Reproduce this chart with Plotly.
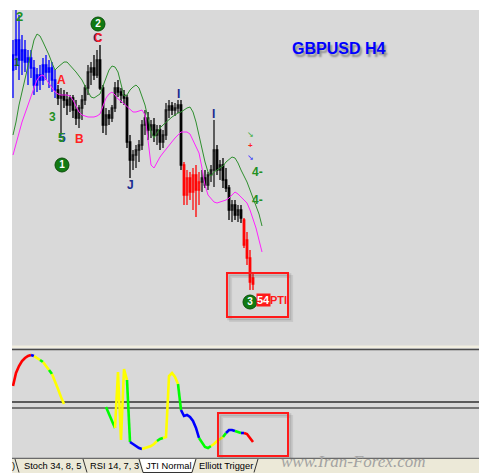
import plotly.graph_objects as go

# ---------------- GBPUSD H4 price bars ----------------
opens = [1.9830, 1.9845, 1.9860, 1.9840, 1.9850, 1.9838, 1.9842, 1.9832, 1.9815, 1.9825,
         1.9820, 1.9835, 1.9828, 1.9832, 1.9820,
         1.9810, 1.9802, 1.9805, 1.9800, 1.9795, 1.9802, 1.9790, 1.9782, 1.9792, 1.9800,
         1.9812, 1.9828, 1.9832, 1.9825, 1.9840, 1.9812, 1.9775, 1.9785, 1.9782, 1.9792,
         1.9812, 1.9808, 1.9805, 1.9802, 1.9758, 1.9740, 1.9745, 1.9750, 1.9755, 1.9775,
         1.9782, 1.9770, 1.9775, 1.9765, 1.9770, 1.9758, 1.9765, 1.9790, 1.9794, 1.9790,
         1.9792, 1.9795,
         1.9735, 1.9705, 1.9722, 1.9708, 1.9725, 1.9710,
         1.9718, 1.9722, 1.9715, 1.9725, 1.9730, 1.9750, 1.9730, 1.9735, 1.9720, 1.9712,
         1.9690, 1.9695, 1.9685, 1.9690,
         1.9680, 1.9660, 1.9642, 1.9622]
highs = [1.9860, 1.9890, 1.9885, 1.9865, 1.9860, 1.9850, 1.9850, 1.9840, 1.9832, 1.9835,
         1.9842, 1.9845, 1.9840, 1.9838, 1.9830,
         1.9815, 1.9812, 1.9810, 1.9808, 1.9805, 1.9805, 1.9800, 1.9795, 1.9805, 1.9815,
         1.9835, 1.9838, 1.9845, 1.9850, 1.9855, 1.9815, 1.9792, 1.9790, 1.9795, 1.9818,
         1.9820, 1.9812, 1.9810, 1.9805, 1.9765, 1.9750, 1.9755, 1.9760, 1.9780, 1.9790,
         1.9788, 1.9780, 1.9782, 1.9775, 1.9775, 1.9770, 1.9797, 1.9800, 1.9798, 1.9797,
         1.9800, 1.9800,
         1.9738, 1.9730, 1.9728, 1.9732, 1.9735, 1.9728,
         1.9730, 1.9730, 1.9728, 1.9735, 1.9780, 1.9755, 1.9740, 1.9742, 1.9732, 1.9715,
         1.9700, 1.9700, 1.9695, 1.9695,
         1.9682, 1.9668, 1.9650, 1.9626]
lows = [1.9802, 1.9830, 1.9820, 1.9825, 1.9828, 1.9815, 1.9822, 1.9805, 1.9808, 1.9810,
        1.9815, 1.9820, 1.9812, 1.9808, 1.9802,
        1.9795, 1.9767, 1.9792, 1.9785, 1.9788, 1.9782, 1.9775, 1.9772, 1.9780, 1.9795,
        1.9805, 1.9815, 1.9820, 1.9822, 1.9810, 1.9767, 1.9765, 1.9775, 1.9778, 1.9788,
        1.9803, 1.9797, 1.9795, 1.9752, 1.9722, 1.9730, 1.9732, 1.9738, 1.9750, 1.9765,
        1.9760, 1.9762, 1.9758, 1.9755, 1.9750, 1.9752, 1.9760, 1.9782, 1.9785, 1.9784,
        1.9787, 1.9730,
        1.9695, 1.9695, 1.9700, 1.9690, 1.9683, 1.9695,
        1.9708, 1.9712, 1.9710, 1.9718, 1.9713, 1.9725, 1.9720, 1.9712, 1.9708, 1.9680,
        1.9678, 1.9680, 1.9678, 1.9677,
        1.9652, 1.9635, 1.9610, 1.9610]
closes = [1.9845, 1.9860, 1.9840, 1.9850, 1.9838, 1.9842, 1.9832, 1.9815, 1.9825, 1.9820,
          1.9835, 1.9828, 1.9832, 1.9820, 1.9810,
          1.9802, 1.9805, 1.9800, 1.9795, 1.9802, 1.9790, 1.9782, 1.9792, 1.9800, 1.9812,
          1.9828, 1.9832, 1.9825, 1.9840, 1.9812, 1.9775, 1.9785, 1.9782, 1.9792, 1.9812,
          1.9808, 1.9805, 1.9802, 1.9758, 1.9740, 1.9745, 1.9750, 1.9755, 1.9775, 1.9782,
          1.9770, 1.9775, 1.9765, 1.9770, 1.9758, 1.9765, 1.9790, 1.9794, 1.9790, 1.9792,
          1.9795, 1.9735,
          1.9705, 1.9722, 1.9708, 1.9725, 1.9710, 1.9718,
          1.9722, 1.9715, 1.9725, 1.9730, 1.9750, 1.9730, 1.9735, 1.9720, 1.9712, 1.9690,
          1.9695, 1.9685, 1.9690, 1.9682,
          1.9655, 1.9642, 1.9618, 1.9616]

# bar colouring by trend state
blue_bars = list(range(0, 15))
black_bars = list(range(15, 57)) + list(range(63, 77))
red_bars = list(range(57, 63)) + list(range(77, 81))

# envelope bands (upper green, lower magenta)
upper_band = [1.9765, 1.9778, 1.9795, 1.9808, 1.9822, 1.9835, 1.9848, 1.9860, 1.9866, 1.9864,
              1.9858, 1.9852, 1.9845, 1.9837, 1.9830, 1.9833, 1.9836, 1.9838, 1.9838, 1.9835,
              1.9832, 1.9828, 1.9824, 1.9820, 1.9814, 1.9808, 1.9803, 1.9802, 1.9804, 1.9806,
              1.9814, 1.9822, 1.9830, 1.9834, 1.9833, 1.9828, 1.9815, 1.9804, 1.9805, 1.9810,
              1.9813, 1.9815, 1.9812, 1.9804, 1.9795, 1.9782, 1.9768, 1.9762, 1.9767, 1.9772,
              1.9775, 1.9778, 1.9780, 1.9783, 1.9785, 1.9787, 1.9788, 1.9790, 1.9792, 1.9793,
              1.9788, 1.9778, 1.9764, 1.9750, 1.9738, 1.9728, 1.9724, 1.9728, 1.9730, 1.9732,
              1.9734, 1.9738, 1.9741, 1.9743, 1.9742, 1.9737, 1.9730, 1.9724, 1.9718, 1.9710,
              1.9702, 1.9694, 1.9686, 1.9674]
lower_band = [1.9745, 1.9755, 1.9767, 1.9778, 1.9787, 1.9795, 1.9803, 1.9812, 1.9820, 1.9824,
              1.9825, 1.9821, 1.9817, 1.9812, 1.9808, 1.9806, 1.9805, 1.9805, 1.9805, 1.9804,
              1.9800, 1.9794, 1.9788, 1.9785, 1.9784, 1.9783, 1.9783, 1.9783, 1.9784, 1.9786,
              1.9794, 1.9802, 1.9806, 1.9808, 1.9805, 1.9801, 1.9799, 1.9796, 1.9793, 1.9790,
              1.9788, 1.9788, 1.9789, 1.9790, 1.9785, 1.9760, 1.9735, 1.9732, 1.9738, 1.9743,
              1.9747, 1.9751, 1.9755, 1.9758, 1.9762, 1.9765, 1.9768, 1.9768, 1.9768, 1.9766,
              1.9760, 1.9753, 1.9747, 1.9732, 1.9715, 1.9705, 1.9701, 1.9698, 1.9697, 1.9698,
              1.9699, 1.9700, 1.9702, 1.9705, 1.9708, 1.9706, 1.9703, 1.9700, 1.9697, 1.9690,
              1.9682, 1.9672, 1.9660, 1.9648]

# ---------------- JTI Normal oscillator ----------------
jti_values = [72, 85, 92, 97, 100, 102, 103, 102, 100, 98, 96, 92, 88, 84, 77, 69, 61, 54,
              None, None, None, None, None, None, None, None, None, None, None, None, None,
              51, 44, 37, 30, 86, 18, 89, 78, 16, 14, 12, 10, 9, 10, 11, 12, 14, 17, 19, 20,
              21, 82, 85, 81, 74, 48, 42, 43, 41, 37, 30, 20, 15, 11, 10, 12, 14, 17, 19, 21,
              25, 28, 28, 27, 26, 25, 25, 24, 20, 16]
jti_state = list("RRRRRRRBYYGYYGYYYY" + "-------------" +
                 "GGGGYYYYGBBBBYYYYYGGYYYYYGBBBBBBGGGGYYYYGBBBGGBRRR")
jti_levels = [56, 50]

tab_names = ["Stoch 34, 8, 5", "RSI 14, 7, 3", "JTI Normal", "Elliott Trigger"]

# ---------------- figure ----------------
W, H = 479, 473


def px(x):
    return x / W


def py(y):
    return 1 - y / H


FONT = "Liberation Sans, Arial, sans-serif"
fig = go.Figure()


def candles(idx, inc_line, inc_fill, dec_line, dec_fill):
    fig.add_trace(go.Candlestick(
        x=idx,
        open=[opens[i] for i in idx], high=[highs[i] for i in idx],
        low=[lows[i] for i in idx], close=[closes[i] for i in idx],
        increasing=dict(line=dict(color=inc_line, width=1.3), fillcolor=inc_fill),
        decreasing=dict(line=dict(color=dec_line, width=1.3), fillcolor=dec_fill),
        whiskerwidth=0, hoverinfo="skip", showlegend=False,
        xaxis="x", yaxis="y"))


candles(blue_bars, "#0000ff", "#3a3aff", "#0000ff", "#0000ff")
candles(black_bars, "#1a1a1a", "#6a6a6a", "#000000", "#000000")
candles(red_bars, "#ff1010", "#ff6a6a", "#ff0000", "#ff0000")

band_x = list(range(len(upper_band)))
fig.add_trace(go.Scatter(x=band_x, y=upper_band, mode="lines",
                         line=dict(color="#2f8f2f", width=1), hoverinfo="skip",
                         showlegend=False, xaxis="x", yaxis="y"))
fig.add_trace(go.Scatter(x=band_x, y=lower_band, mode="lines",
                         line=dict(color="#ff22ff", width=1), hoverinfo="skip",
                         showlegend=False, xaxis="x", yaxis="y"))

# oscillator: one polyline per run of equally coloured segments
JTI_COLORS = {"R": "#ff0000", "B": "#0000ff", "Y": "#ffff00", "G": "#00ff00"}
runs = []
for i in range(1, len(jti_values)):
    a, b = jti_values[i - 1], jti_values[i]
    if a is None or b is None:
        continue
    c = jti_state[i]
    if runs and runs[-1][0] == c and runs[-1][1][-1] == i - 1:
        runs[-1][1].append(i)
    else:
        runs.append((c, [i - 1, i]))
for c, idx in runs:
    fig.add_trace(go.Scatter(x=idx, y=[jti_values[i] for i in idx], mode="lines",
                             line=dict(color=JTI_COLORS[c], width=2.6),
                             hoverinfo="skip", showlegend=False,
                             xaxis="x2", yaxis="y2"))

# wave-count markers (circled numbers)
circ_x = [28.33, 16.33, 79.0]
circ_y = [1.9876, 1.9735, 1.9598]
circ_t = ["<b>2</b>", "<b>1</b>", "<b>3</b>"]
fig.add_trace(go.Scatter(x=circ_x, y=circ_y, mode="markers+text", text=circ_t,
                         textposition="middle center",
                         textfont=dict(color="white", size=10, family=FONT),
                         marker=dict(size=14, color="#127a12",
                                     line=dict(color="#0b4f0b", width=1)),
                         hoverinfo="skip", showlegend=False, xaxis="x", yaxis="y"))

xr = [-1 / 3, (W - 13) / 3]
fig.update_layout(
    width=W, height=H, margin=dict(l=0, r=0, t=0, b=0),
    paper_bgcolor="white", plot_bgcolor="rgba(0,0,0,0)",
    showlegend=False, hovermode=False,
    xaxis=dict(domain=[px(12), 1], range=xr, visible=False, fixedrange=True,
               rangeslider=dict(visible=False), anchor="y"),
    yaxis=dict(domain=[py(346), py(10)], range=[1.9554, 1.9890], visible=False,
               fixedrange=True, anchor="x"),
    xaxis2=dict(domain=[px(12), 1], range=xr, visible=False, fixedrange=True,
                anchor="y2"),
    yaxis2=dict(domain=[py(458), py(350)], range=[0, 108], visible=False,
                fixedrange=True, anchor="x2"),
)

shapes = []
# window background and panel separators
shapes.append(dict(type="rect", xref="paper", yref="paper", x0=px(12), x1=1,
                   y0=py(458), y1=py(10), fillcolor="#d9d9d9", line_width=0, layer="below"))
shapes.append(dict(type="rect", xref="paper", yref="paper", x0=px(12), x1=1,
                   y0=py(348), y1=py(345.5), fillcolor="#f1eee0", line_width=0, layer="below"))
shapes.append(dict(type="line", xref="paper", yref="paper", x0=px(12), x1=1,
                   y0=py(349.5), y1=py(349.5), line=dict(color="#4a4a4a", width=1.5),
                   layer="below"))
shapes.append(dict(type="line", xref="paper", yref="y2", x0=px(12), x1=1,
                   y0=jti_levels[0], y1=jti_levels[0], line=dict(color="#5a5a5a", width=2),
                   layer="below"))
shapes.append(dict(type="line", xref="paper", yref="y2", x0=px(12), x1=1,
                   y0=jti_levels[1], y1=jti_levels[1], line=dict(color="#111111", width=1.2),
                   layer="below"))
# tab strip
shapes.append(dict(type="rect", xref="paper", yref="paper", x0=px(12), x1=1,
                   y0=0, y1=py(458.5), fillcolor="#ece9d8", line_width=0, layer="below"))
shapes.append(dict(type="line", xref="paper", yref="paper", x0=px(12), x1=1,
                   y0=py(458.3), y1=py(458.3), line=dict(color="#6a6a6a", width=1.3)))
active = "M {} {} L {} {} L {} {} L {} {} Z".format(
    px(140), py(458.5), px(144), py(472.5), px(191), py(472.5), px(195), py(458.5))
shapes.append(dict(type="path", xref="paper", yref="paper", path=active,
                   fillcolor="#ffffff", line=dict(color="#ffffff", width=0), layer="below"))
for x0, x1 in [(15, 19), (83, 87), (139, 143)]:
    shapes.append(dict(type="line", xref="paper", yref="paper", x0=px(x0), x1=px(x1),
                       y0=py(459), y1=py(472.5), line=dict(color="#333333", width=1)))
for x0, x1 in [(192, 196), (254, 258)]:
    shapes.append(dict(type="line", xref="paper", yref="paper", x0=px(x0), x1=px(x1),
                       y0=py(472.5), y1=py(459), line=dict(color="#333333", width=1)))
shapes.append(dict(type="line", xref="paper", yref="paper", x0=px(143), x1=px(192),
                   y0=py(472.5), y1=py(472.5), line=dict(color="#333333", width=1)))

# highlight boxes with soft drop shadow
for (xa, xb, ya, yb, yref, dy) in [(71.33, 91.67, 1.9627, 1.9583, "y", 0.0003),
                                   (68.33, 91.67, 45, 2, "y2", 3)]:
    for k, a in [(2, 0.10), (1, 0.16)]:
        shapes.append(dict(type="rect", xref="x", yref=yref, x0=xa + k * 0.6,
                           x1=xb + k * 0.6, y0=ya - k * dy * 0.6, y1=yb - k * dy * 0.6,
                           line=dict(color="rgba(60,60,60,%.2f)" % a, width=3)))
    shapes.append(dict(type="rect", xref="x", yref=yref, x0=xa, x1=xb, y0=ya, y1=yb,
                       line=dict(color="#ff1a1a", width=2)))
fig.update_layout(shapes=shapes)

ann = []


def label(text, x, y, color, size=12, bold=True, bg=None, shadow=None):
    t = "<b>%s</b>" % text if bold else text
    font = dict(family=FONT, size=size, color=color)
    if shadow:
        font["shadow"] = shadow
    d = dict(text=t, x=x, y=y, xref="x", yref="y", showarrow=False, font=font,
             xanchor="center", yanchor="middle")
    if bg:
        d.update(bgcolor=bg, borderpad=0)
    ann.append(d)


label("2", 2.0, 1.9884, "#229022", 13)
label("1", 1.4, 1.9838, "#0f5f2f", 10)
label("C", 28.4, 1.9862, "#ff2222", 12, shadow="-1px 0px 0px #1a2aa0")
label("A", 16.33, 1.9820, "#ff2222", 12)
label("3", 13.33, 1.9783, "#229022", 12)
label("5", 16.0, 1.9762, "#229022", 12, shadow="1px 0px 0px #1a2a90")
label("B", 22.33, 1.9761, "#ff2222", 12)
label("J", 39.0, 1.9715, "#1a2a90", 12)
label("I", 55.0, 1.9806, "#1a2a90", 12)
label("I", 66.67, 1.9786, "#1a2a90", 12)
label("↘", 79.33, 1.9766, "#33aa33", 8, bold=False)
label("+", 79.33, 1.9755, "#ff2222", 8)
label("↘", 79.33, 1.9743, "#2a2aff", 8, bold=False)
label("4-", 81.6, 1.9728, "#229022", 12)
label("4-", 81.6, 1.9700, "#229022", 12)
label("54", 83.6, 1.9600, "#ffffff", 11, bg="#ff1a1a")
label("PTI", 88.6, 1.9600, "#ff1a1a", 11)

# symbol / timeframe caption with soft shadow
ann.append(dict(text="<b>GBPUSD H4</b>", x=px(338), y=py(49), xref="paper", yref="paper",
                showarrow=False, xanchor="center", yanchor="middle",
                font=dict(family=FONT, size=16, color="#0000ff",
                          shadow="2px 3px 2px rgba(0,0,0,0.35)")))

# tab captions
for name, xc in zip(tab_names, [52.5, 114, 168, 225.5]):
    ann.append(dict(text=name, x=px(xc), y=py(466), xref="paper", yref="paper",
                    showarrow=False, xanchor="center", yanchor="middle",
                    font=dict(family=FONT, size=9.3, color="#000000")))
ann.append(dict(text=")", x=px(13.5), y=py(466), xref="paper", yref="paper",
                showarrow=False, xanchor="center", yanchor="middle",
                font=dict(family=FONT, size=9.3, color="#000000")))
ann.append(dict(text="<i>www.Iran-Forex.com</i>", x=px(353), y=0, xref="paper",
                yref="paper", showarrow=False, xanchor="center", yanchor="bottom",
                font=dict(family="Liberation Serif, serif", size=17, color="#a3a3a3")))
fig.update_layout(annotations=ann)

fig.write_html("out.html", config=dict(displayModeBar=False))
